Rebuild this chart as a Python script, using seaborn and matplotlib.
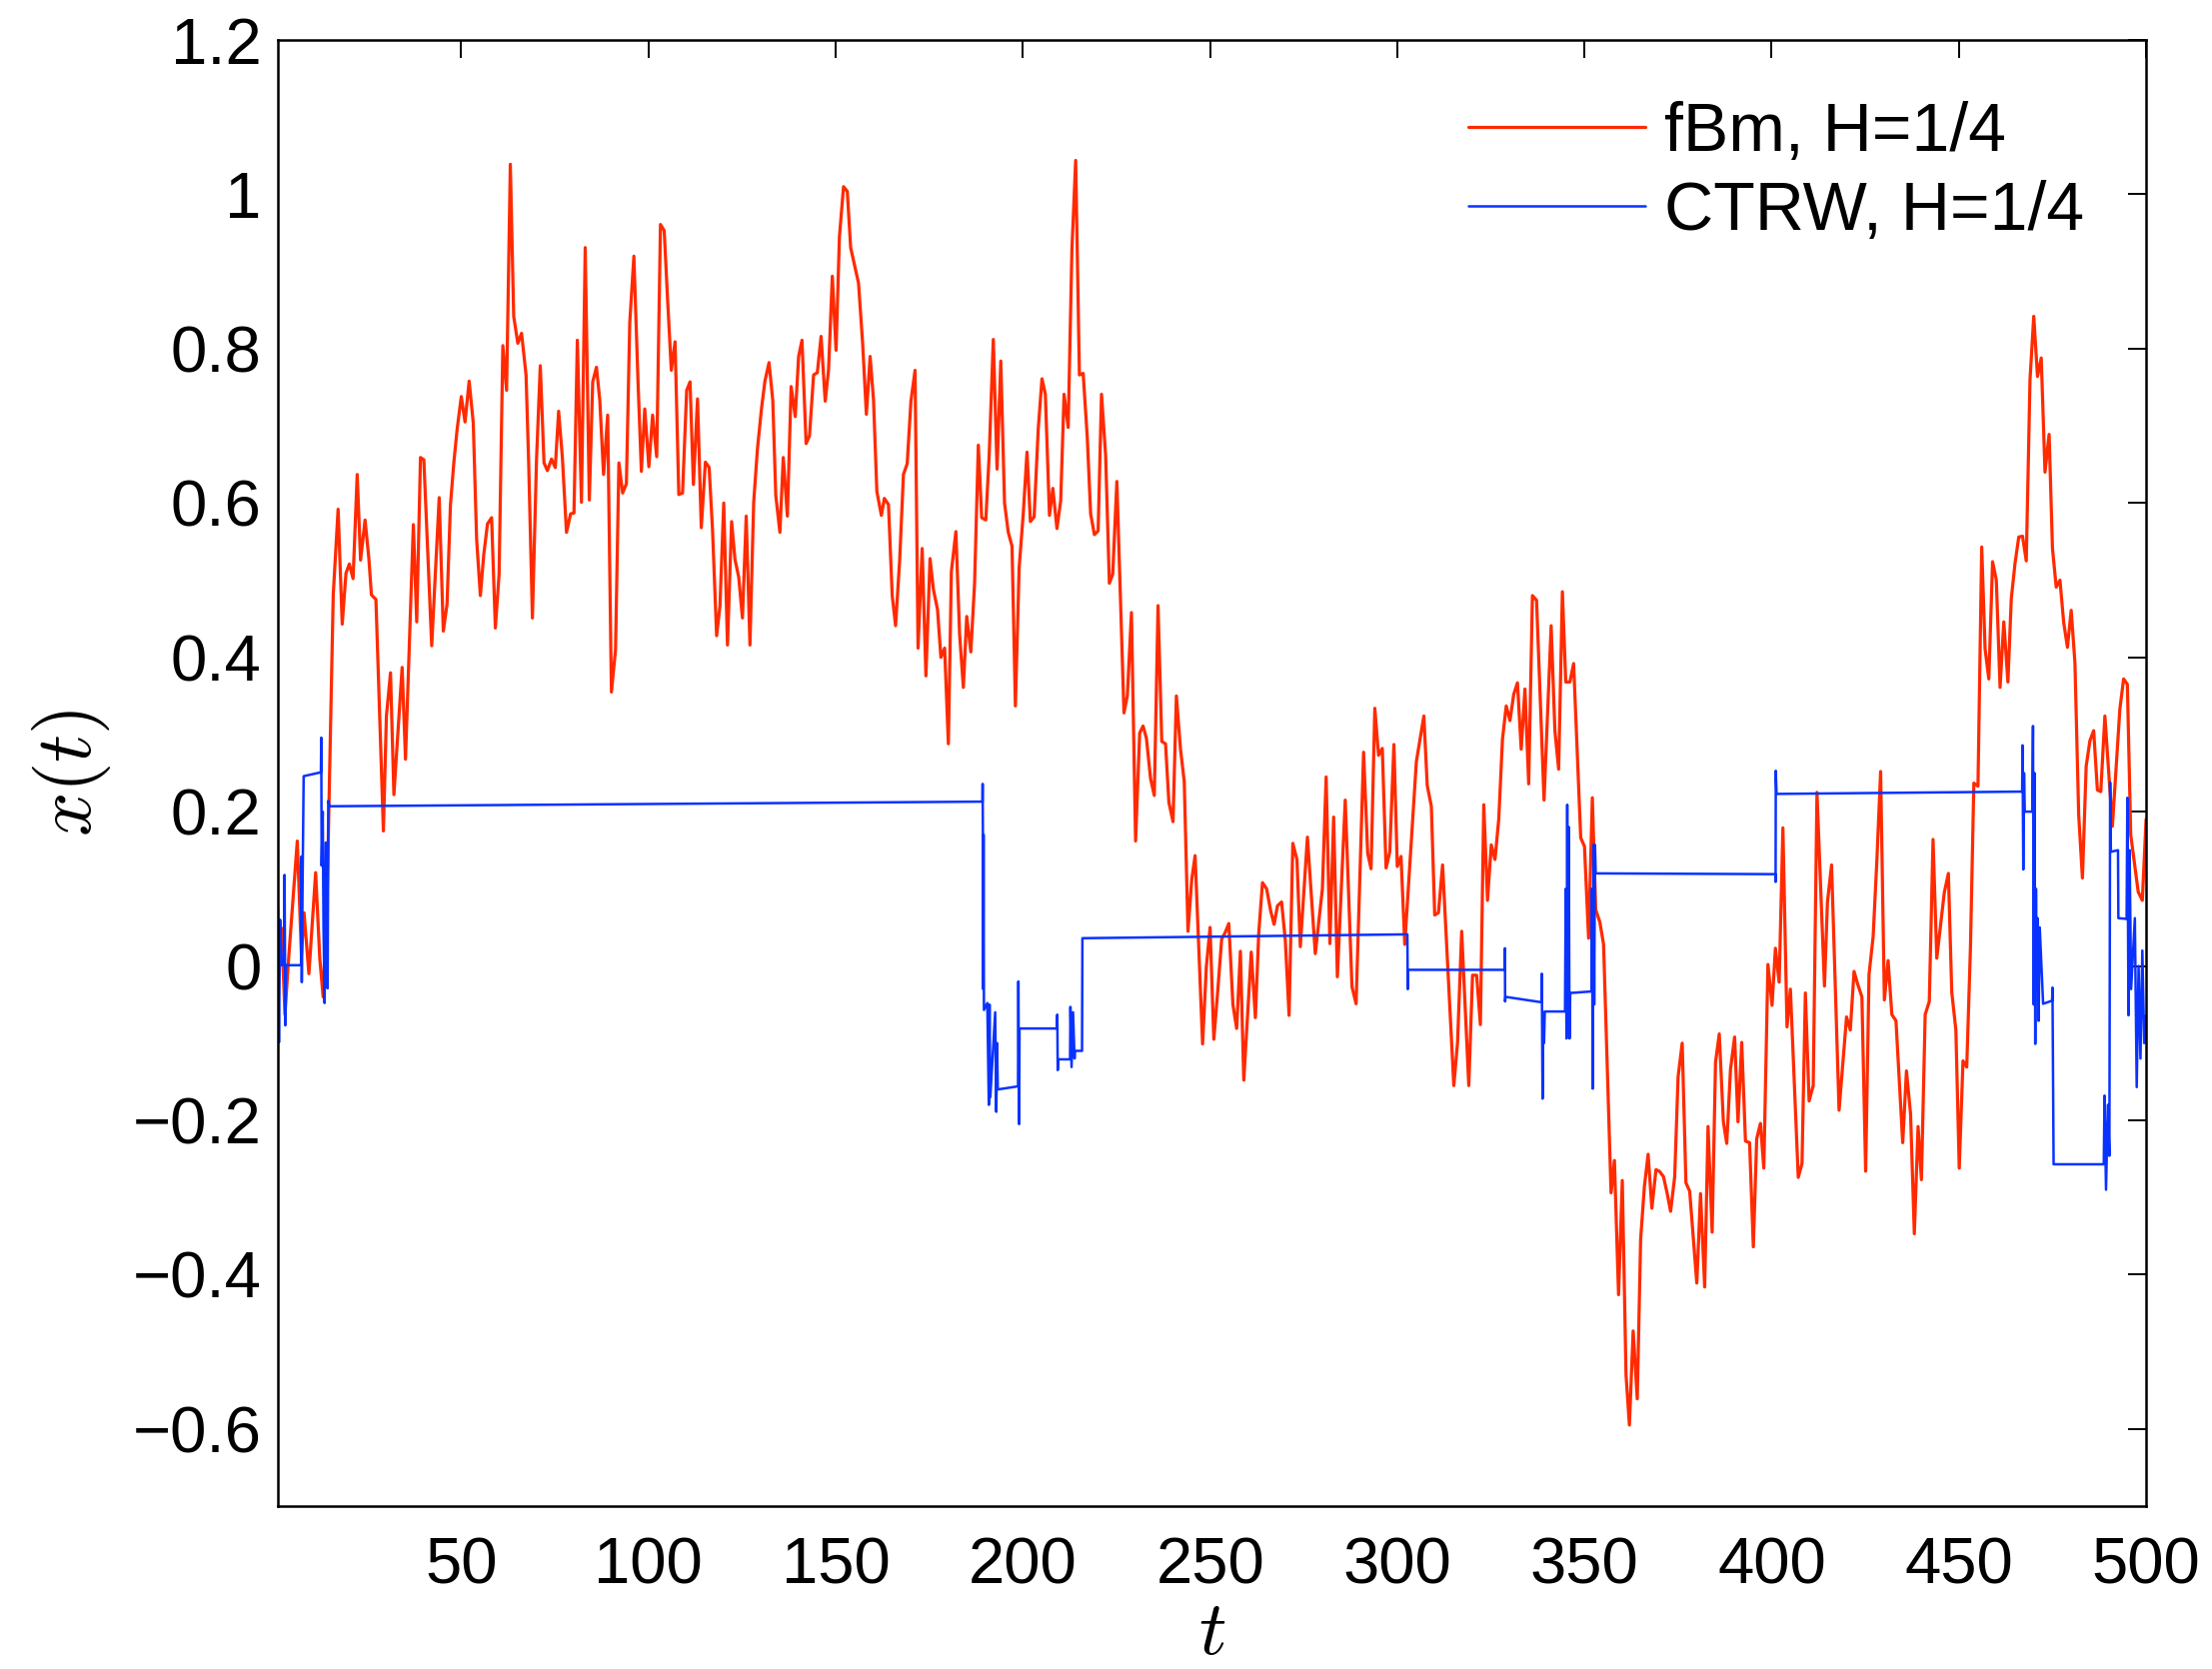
import numpy as np
import pandas as pd
import matplotlib
matplotlib.use("Agg")
import matplotlib.pyplot as plt
import seaborn as sns

# ---------------- data ----------------
fbm_t = [1.0, 2.0, 2.9, 3.8, 6.2, 7.3, 8.0, 9.3, 11.1, 12.2, 13.1, 14.2, 15.8, 17.1, 18.2, 19.2, 20.1, 21.1,
         22.2, 23.1, 24.3, 25.3, 26.0, 27.2, 29.2, 30.0, 31.1, 32.0, 34.2, 35.1, 37.2, 38.1, 39.1, 40.0, 42.1,
         44.1, 45.2, 46.2, 47.1, 48.0, 48.9, 50.0, 51.0, 52.1, 53.2, 54.1, 55.1, 56.0, 57.0, 58.1, 59.1, 60.1,
         61.1, 62.1, 63.1, 64.0, 65.1, 66.1, 67.3, 68.0, 69.0, 70.1, 71.1, 72.1, 73.0, 74.1, 75.1, 76.0, 77.0,
         78.1, 79.2, 80.1, 81.0, 82.1, 83.1, 84.2, 85.1, 86.1, 87.0, 88.0, 89.1, 90.1, 91.2, 92.1, 93.1, 94.1,
         95.0, 96.1, 97.2, 98.1, 99.0, 100.1, 101.1, 102.2, 103.2, 104.2, 105.1, 106.1, 107.1, 108.1, 109.1,
         110.2, 111.1, 112.0, 113.1, 114.1, 115.2, 116.2, 117.1, 118.2, 119.1, 120.1, 121.1, 122.2, 123.1,
         124.1, 125.1, 126.1, 127.1, 128.1, 129.1, 130.2, 131.1, 132.2, 133.2, 134.0, 135.1, 136.0, 137.1,
         138.1, 139.2, 140.1, 141.0, 142.1, 143.0, 144.1, 145.1, 146.1, 147.2, 148.1, 149.1, 150.1, 151.0,
         152.1, 153.1, 154.0, 156.1, 157.2, 158.2, 159.2, 160.1, 161.0, 162.2, 163.0, 164.1, 165.1, 166.0,
         167.1, 168.1, 169.1, 170.1, 171.2, 172.0, 173.1, 174.1, 175.2, 176.1, 177.2, 178.1, 179.1, 180.1,
         180.9, 182.1, 183.1, 184.1, 185.0, 186.1, 187.1, 188.1, 189.0, 190.1, 191.0, 192.1, 193.1, 194.1,
         195.1, 196.1, 197.1, 198.0, 199.0, 200.1, 201.1, 202.0, 203.0, 204.1, 205.1, 206.0, 207.1, 208.0,
         209.1, 210.1, 211.0, 212.1, 213.1, 214.1, 215.1, 216.1, 217.2, 218.1, 219.1, 220.1, 221.0, 222.1,
         223.1, 224.0, 225.1, 227.0, 227.9, 229.0, 230.1, 231.2, 232.1, 233.0, 234.1, 235.1, 236.1, 237.1,
         238.1, 239.0, 240.1, 241.0, 242.1, 243.1, 244.1, 245.1, 246.0, 248.0, 249.0, 250.0, 251.0, 252.1,
         253.1, 254.0, 255.0, 256.1, 257.1, 258.1, 259.0, 261.0, 262.1, 263.0, 264.0, 265.1, 266.2, 267.1,
         268.0, 269.1, 270.1, 271.1, 272.1, 273.2, 274.1, 276.0, 278.1, 280.0, 281.0, 282.0, 283.0, 284.0,
         286.1, 287.9, 289.0, 291.0, 292.1, 293.0, 294.0, 295.0, 296.0, 297.0, 298.0, 299.1, 300.0, 301.0,
         302.0, 305.1, 307.1, 308.0, 309.1, 310.0, 311.0, 312.1, 313.1, 315.1, 316.1, 317.2, 319.1, 320.1,
         321.2, 322.2, 323.1, 324.1, 325.1, 326.1, 327.1, 328.1, 329.1, 330.1, 331.1, 332.1, 333.1, 334.1,
         335.1, 336.1, 337.2, 339.2, 341.1, 342.1, 343.1, 344.1, 345.0, 346.1, 347.1, 349.0, 350.0, 351.1,
         352.1, 353.0, 354.1, 355.1, 357.1, 358.0, 359.1, 360.1, 361.1, 362.0, 363.0, 364.1, 365.0, 366.0,
         367.0, 368.0, 369.1, 370.0, 371.1, 372.1, 373.0, 374.1, 375.0, 376.1, 377.1, 378.1, 380.0, 381.0,
         382.1, 383.0, 384.1, 385.0, 386.0, 387.1, 388.0, 389.0, 390.1, 391.0, 392.0, 393.0, 394.1, 395.1,
         396.0, 397.0, 397.9, 399.0, 400.1, 401.0, 402.0, 403.0, 404.1, 405.0, 407.1, 408.1, 409.0, 410.0,
         411.1, 412.1, 414.1, 414.9, 416.0, 418.0, 420.0, 421.0, 422.0, 423.0, 424.1, 425.1, 426.0, 427.1,
         428.1, 429.1, 430.1, 431.1, 432.1, 433.2, 435.0, 436.0, 437.1, 438.1, 439.1, 440.0, 441.0, 442.1,
         443.1, 444.1, 446.1, 447.2, 448.1, 449.2, 450.1, 451.1, 452.1, 453.1, 454.0, 455.1, 456.1, 457.0,
         458.0, 459.0, 460.0, 461.0, 462.0, 463.1, 464.0, 465.0, 466.0, 467.0, 468.0, 469.0, 470.0, 471.0,
         472.0, 473.0, 474.1, 475.0, 476.0, 477.0, 478.0, 479.0, 480.0, 481.0, 482.0, 483.0, 484.0, 485.0,
         486.0, 487.0, 487.9, 489.0, 491.0, 493.0, 494.0, 495.0, 495.9, 497.9, 499.0, 500.0]
fbm_x = [0.03, 0.049, -0.063, 0.004, 0.162, 0.015, 0.069, -0.010, 0.121, 0.010, -0.040, 0.100, 0.481, 0.592,
         0.443, 0.509, 0.521, 0.502, 0.637, 0.526, 0.578, 0.529, 0.481, 0.475, 0.175, 0.324, 0.380, 0.222,
         0.387, 0.268, 0.572, 0.446, 0.659, 0.656, 0.415, 0.607, 0.434, 0.469, 0.597, 0.652, 0.696, 0.738,
         0.705, 0.758, 0.704, 0.553, 0.480, 0.533, 0.573, 0.581, 0.438, 0.508, 0.804, 0.746, 1.039, 0.842,
         0.807, 0.820, 0.766, 0.652, 0.451, 0.657, 0.778, 0.652, 0.642, 0.657, 0.646, 0.719, 0.659, 0.562,
         0.586, 0.587, 0.811, 0.601, 0.931, 0.604, 0.757, 0.776, 0.733, 0.637, 0.714, 0.355, 0.410, 0.652,
         0.613, 0.625, 0.834, 0.920, 0.758, 0.641, 0.722, 0.647, 0.714, 0.660, 0.961, 0.953, 0.864, 0.772,
         0.809, 0.611, 0.613, 0.746, 0.757, 0.624, 0.735, 0.568, 0.653, 0.646, 0.566, 0.428, 0.467, 0.600,
         0.416, 0.576, 0.527, 0.504, 0.451, 0.583, 0.416, 0.601, 0.670, 0.723, 0.758, 0.782, 0.733, 0.610,
         0.562, 0.659, 0.583, 0.751, 0.712, 0.790, 0.811, 0.677, 0.687, 0.766, 0.769, 0.816, 0.732, 0.773,
         0.894, 0.798, 0.945, 1.010, 1.004, 0.931, 0.885, 0.807, 0.715, 0.790, 0.734, 0.615, 0.584, 0.606,
         0.598, 0.480, 0.441, 0.527, 0.637, 0.651, 0.732, 0.772, 0.412, 0.541, 0.376, 0.528, 0.488, 0.462,
         0.400, 0.412, 0.288, 0.511, 0.563, 0.430, 0.361, 0.453, 0.407, 0.496, 0.675, 0.581, 0.578, 0.662,
         0.812, 0.644, 0.784, 0.600, 0.562, 0.544, 0.337, 0.516, 0.586, 0.666, 0.576, 0.582, 0.696, 0.761,
         0.741, 0.584, 0.619, 0.567, 0.603, 0.741, 0.698, 0.929, 1.044, 0.766, 0.768, 0.685, 0.586, 0.559,
         0.564, 0.741, 0.662, 0.496, 0.508, 0.628, 0.328, 0.350, 0.458, 0.162, 0.302, 0.311, 0.295, 0.243,
         0.221, 0.467, 0.291, 0.288, 0.212, 0.187, 0.350, 0.281, 0.239, 0.045, 0.112, 0.143, -0.101, -0.001,
         0.050, -0.095, -0.029, 0.035, 0.043, 0.055, -0.050, -0.081, 0.019, -0.148, 0.018, -0.067, 0.043,
         0.108, 0.100, 0.071, 0.054, 0.078, 0.083, 0.033, -0.064, 0.159, 0.138, 0.025, 0.167, 0.016, 0.100,
         0.245, 0.029, 0.193, -0.014, 0.215, -0.027, -0.049, 0.277, 0.146, 0.126, 0.334, 0.273, 0.282, 0.127,
         0.148, 0.287, 0.129, 0.142, 0.028, 0.265, 0.324, 0.234, 0.207, 0.066, 0.069, 0.131, 0.035, -0.155,
         -0.099, 0.045, -0.155, -0.012, -0.012, -0.076, 0.209, 0.085, 0.157, 0.138, 0.190, 0.294, 0.337,
         0.318, 0.352, 0.367, 0.281, 0.359, 0.236, 0.480, 0.474, 0.215, 0.441, 0.305, 0.255, 0.485, 0.368,
         0.368, 0.392, 0.166, 0.155, 0.036, 0.218, 0.073, 0.057, 0.028, -0.294, -0.252, -0.426, -0.278,
         -0.530, -0.595, -0.473, -0.561, -0.354, -0.286, -0.244, -0.314, -0.264, -0.266, -0.273, -0.295,
         -0.318, -0.273, -0.144, -0.100, -0.281, -0.292, -0.411, -0.295, -0.416, -0.208, -0.345, -0.125,
         -0.088, -0.202, -0.230, -0.134, -0.092, -0.202, -0.099, -0.227, -0.229, -0.364, -0.224, -0.204,
         -0.262, 0.002, -0.051, 0.023, -0.021, 0.179, -0.079, -0.030, -0.274, -0.256, -0.035, -0.175, -0.155,
         0.225, -0.026, 0.083, 0.131, -0.187, -0.066, -0.083, -0.007, -0.024, -0.040, -0.266, -0.011, 0.038,
         0.137, 0.252, -0.044, 0.007, -0.063, -0.071, -0.229, -0.136, -0.192, -0.347, -0.208, -0.277, -0.063,
         -0.046, 0.164, 0.010, 0.095, 0.120, -0.034, -0.083, -0.262, -0.123, -0.131, 0.025, 0.237, 0.233,
         0.543, 0.411, 0.372, 0.524, 0.500, 0.361, 0.446, 0.368, 0.476, 0.522, 0.556, 0.557, 0.525, 0.760,
         0.842, 0.764, 0.788, 0.640, 0.689, 0.541, 0.491, 0.500, 0.445, 0.413, 0.461, 0.393, 0.196, 0.114,
         0.259, 0.292, 0.305, 0.228, 0.226, 0.324, 0.181, 0.333, 0.372, 0.365, 0.170, 0.096, 0.085, 0.190]

ctrw_t = [1.0, 1.3, 1.6, 2.0, 2.6, 2.8, 3.0, 3.2, 7.2, 7.3, 7.4, 7.6, 7.9, 12.5, 12.6, 12.7, 13.0, 13.2,
          13.5, 13.8, 14.3, 14.5, 14.8, 189.2, 189.25, 189.35, 189.4, 189.5, 189.6, 190.5, 190.9, 191.1,
          191.3, 192.6, 192.9, 193.1, 193.3, 198.7, 198.8, 199.0, 199.1, 209.1, 209.2, 209.3, 209.4, 212.6,
          212.7, 213.0, 213.4, 213.8, 213.9, 215.8, 215.9, 302.7, 302.8, 302.9, 328.7, 328.75, 328.8, 328.9,
          338.5, 338.6, 338.8, 339.0, 339.2, 339.4, 344.8, 345.0, 345.2, 345.4, 345.6, 345.8, 346.0, 346.2,
          351.9, 352.0, 352.2, 352.4, 352.6, 352.8, 353.0, 401.0, 401.05, 401.1, 401.3, 466.9, 467.0, 467.2,
          467.4, 467.6, 469.6, 469.8, 470.0, 470.2, 470.4, 470.6, 470.8, 471.0, 471.3, 471.6, 472.5, 474.9,
          475.0, 475.3, 488.7, 488.9, 489.3, 489.8, 490.2, 490.4, 490.6, 492.5, 492.6, 494.8, 495.0, 495.3,
          495.6, 496.0, 497.0, 497.5, 498.0, 498.5, 499.0, 499.5, 500.0]
ctrw_x = [0.077, -0.099, 0.06, 0.001, 0.001, 0.118, -0.077, 0.001, 0.001, 0.142, -0.021, 0.10, 0.246, 0.251,
          0.296, 0.13, 0.20, 0.05, -0.048, 0.16, -0.029, 0.214, 0.207, 0.213, 0.236, 0.15, -0.03, 0.17,
          -0.057, -0.048, -0.18, -0.05, -0.17, -0.06, -0.189, -0.10, -0.16, -0.156, -0.02, -0.205, -0.081,
          -0.081, -0.063, -0.135, -0.121, -0.121, -0.053, -0.131, -0.06, -0.12, -0.110, -0.110, 0.036, 0.041,
          -0.030, -0.005, -0.005, 0.023, -0.046, -0.040, -0.047, -0.010, -0.172, -0.06, -0.10, -0.059, -0.059,
          0.10, -0.094, 0.209, -0.08, 0.18, -0.094, -0.035, -0.033, 0.10, -0.159, 0.157, -0.05, 0.157, 0.120,
          0.119, 0.109, 0.253, 0.223, 0.226, 0.286, 0.125, 0.25, 0.200, 0.200, 0.311, -0.05, 0.25, -0.101,
          0.10, -0.03, 0.062, -0.071, 0.05, -0.049, -0.045, -0.028, -0.257, -0.257, -0.168, -0.29, -0.18,
          -0.246, 0.238, 0.148, 0.150, 0.062, 0.061, 0.218, -0.064, 0.15, -0.03, 0.062, -0.157, 0.0, -0.12,
          0.02, -0.10, -0.064]

labels = ["fBm, H=1/4", "CTRW, H=1/4"]
x_ticks = [50, 100, 150, 200, 250, 300, 350, 400, 450, 500]
y_ticks = [-0.6, -0.4, -0.2, 0, 0.2, 0.4, 0.6, 0.8, 1, 1.2]
y_tick_labels = ["\u22120.6", "\u22120.4", "\u22120.2", "0", "0.2", "0.4", "0.6", "0.8", "1", "1.2"]

# ---------------- plot ----------------
sns.set_style("white")
plt.rcParams["font.family"] = ["Liberation Sans", "DejaVu Sans"]
plt.rcParams["mathtext.fontset"] = "cm"
plt.rcParams["text.color"] = "black"
plt.rcParams["axes.labelcolor"] = "black"
plt.rcParams["xtick.color"] = "black"
plt.rcParams["ytick.color"] = "black"

df_fbm = pd.DataFrame({"t": fbm_t, "x": fbm_x})
df_ctrw = pd.DataFrame({"t": ctrw_t, "x": ctrw_x})

fig = plt.figure(figsize=(22.13, 16.70), dpi=100)
ax = fig.add_axes([0.1256, 0.0976, 0.8446, 0.8784])

sns.lineplot(data=df_fbm, x="t", y="x", ax=ax, sort=False, estimator=None,
             color="#ff2a00", linewidth=2.3, label=labels[0])
sns.lineplot(data=df_ctrw, x="t", y="x", ax=ax, sort=False, estimator=None,
             color="#0a32ff", linewidth=1.8, label=labels[1])

ax.set_xlim(1, 500)
ax.set_ylim(-0.7, 1.2)
ax.set_xticks(x_ticks)
ax.set_yticks(y_ticks)
ax.set_yticklabels(y_tick_labels)

for s in ax.spines.values():
    s.set_visible(True)
    s.set_color("black")
    s.set_linewidth(1.8)

ax.tick_params(axis="both", which="both", direction="in", top=True, right=True,
               length=13, width=1.4, labelsize=47, colors="black", labelcolor="black")
ax.tick_params(axis="x", pad=22)
ax.tick_params(axis="y", pad=12)

ax.set_xlabel(r"$t$", fontsize=55, labelpad=2, color="black")
ax.set_ylabel(r"$x(t)$", fontsize=56, labelpad=14, color="black")

leg = ax.legend(loc="upper right", frameon=False, fontsize=49, handlelength=2.6,
                handletextpad=0.28, labelspacing=0.22, borderaxespad=0.5,
                bbox_to_anchor=(0.9995, 1.0005))
for txt in leg.get_texts():
    txt.set_color("black")

fig.savefig("out.png", dpi=100)
